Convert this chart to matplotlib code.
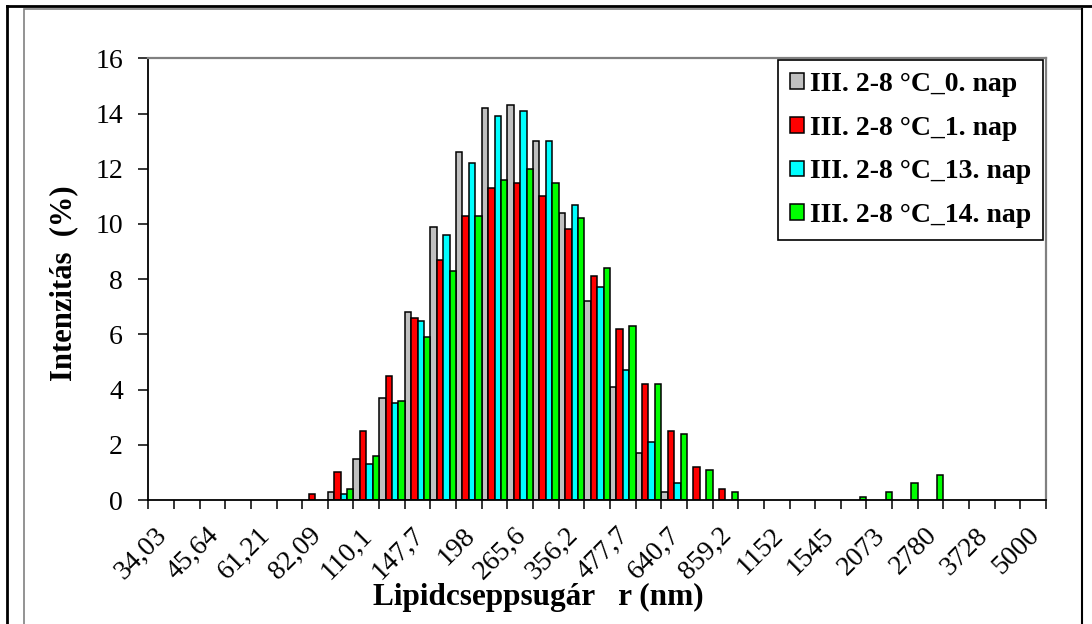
import matplotlib.pyplot as plt
import matplotlib.lines as mlines
import matplotlib.patches as mpatches
import numpy as np

# radius bins (nm); only every second one is labelled on the axis
radius_labels = ['34,03', '39,41', '45,64', '52,85', '61,21', '70,89', '82,09',
                 '95,07', '110,1', '127,5', '147,7', '171', '198', '229,3',
                 '265,6', '307,6', '356,2', '412,5', '477,7', '553,2', '640,7',
                 '742', '859,2', '995', '1152', '1334', '1545', '1789', '2073',
                 '2401', '2780', '3219', '3728', '4317', '5000']

series_names = ['III. 2-8 °C_0. nap', 'III. 2-8 °C_1. nap',
                'III. 2-8 °C_13. nap', 'III. 2-8 °C_14. nap']

day0 = [0, 0, 0, 0, 0, 0, 0, 0.3, 1.5, 3.7, 6.8, 9.9, 12.6, 14.2, 14.3, 13.0,
        10.4, 7.2, 4.1, 1.7, 0.3, 0, 0, 0, 0, 0, 0, 0, 0, 0, 0, 0, 0, 0, 0]
day1 = [0, 0, 0, 0, 0, 0, 0.2, 1.0, 2.5, 4.5, 6.6, 8.7, 10.3, 11.3, 11.5, 11.0,
        9.8, 8.1, 6.2, 4.2, 2.5, 1.2, 0.4, 0, 0, 0, 0, 0, 0, 0, 0, 0, 0, 0, 0]
day13 = [0, 0, 0, 0, 0, 0, 0, 0.2, 1.3, 3.5, 6.5, 9.6, 12.2, 13.9, 14.1, 13.0,
         10.7, 7.7, 4.7, 2.1, 0.6, 0, 0, 0, 0, 0, 0, 0, 0, 0, 0, 0, 0, 0, 0]
day14 = [0, 0, 0, 0, 0, 0, 0, 0.4, 1.6, 3.6, 5.9, 8.3, 10.3, 11.6, 12.0, 11.5,
         10.2, 8.4, 6.3, 4.2, 2.4, 1.1, 0.3, 0, 0, 0, 0, 0.1, 0.3, 0.6, 0.9,
         0, 0, 0, 0]

colors = ['#c0c0c0', '#ff0000', '#00ffff', '#00ff00']

plt.rcParams['font.family'] = ['Liberation Serif', 'DejaVu Serif']

fig = plt.figure(figsize=(10.92, 6.24), dpi=100)
ax = fig.add_axes([148.3 / 1092, 1 - 500 / 624, 897.7 / 1092, 441.7 / 624])

n = len(radius_labels)
x = np.arange(n)
w = 0.25
for k, (vals, col, name) in enumerate(zip([day0, day1, day13, day14], colors, series_names)):
    vals = np.array(vals)
    keep = vals > 0
    ax.bar(x[keep] + (k - 1.5) * w, vals[keep], width=w, color=col,
           edgecolor='black', linewidth=1.1, label=name)

ax.set_xlim(-0.5, n - 0.5)
ax.set_ylim(0, 16)
ax.set_yticks(np.arange(0, 17, 2))

# tick marks between categories, labels on every second category
# (label anchors nudged a little left so the rotated text ends at the centre)
ax.set_xticks(np.arange(n + 1) - 0.5)
ax.set_xticklabels([])
ax.set_xticks(x[::2] - 0.25, radius_labels[::2], minor=True)
ax.tick_params(axis='x', which='major', direction='out', length=6.7, width=1.1)
ax.tick_params(axis='x', which='minor', length=0, pad=16.5, labelsize=20)
for lab in ax.get_xticklabels(minor=True):
    lab.set_rotation(45)
    lab.set_ha('right')
    lab.set_va('top')
    lab.set_rotation_mode('anchor')
ax.tick_params(axis='y', direction='out', length=7.2, width=1.1, pad=11, labelsize=20)

for side in ['top', 'right']:
    ax.spines[side].set_color('#808080')
    ax.spines[side].set_linewidth(1.6)
for side in ['left', 'bottom']:
    ax.spines[side].set_linewidth(1.3)

fig.text(538 / 1092, 1 - 597 / 624, 'Lipidcseppsugár   r (nm)', fontsize=22.5,
         fontweight='bold', ha='center', va='center')
fig.text(64 / 1092, 1 - 283 / 624, 'Intenzitás  (%)', fontsize=22,
         fontweight='bold', ha='center', va='center', rotation=90)

leg = ax.legend(loc='upper right', bbox_to_anchor=(0.997, 0.997), borderaxespad=0,
                prop={'size': 20, 'weight': 'bold'}, fancybox=False,
                framealpha=1, edgecolor='black', handlelength=0.5,
                handleheight=0.5, handletextpad=0.2, labelspacing=0.67,
                borderpad=0.45)
leg.get_frame().set_linewidth(1.2)

# outer frame lines like the pasted document picture
fig.add_artist(mpatches.Rectangle((23.5 / 1092, -0.05), (1082 - 23.5) / 1092,
                                  1.05 - 9 / 624, transform=fig.transFigure,
                                  fill=False, edgecolor='#808080', linewidth=1.2))
fig.add_artist(mlines.Line2D([1082 / 1092, 1082 / 1092], [0, 1 - 9 / 624],
                             transform=fig.transFigure, color='black', linewidth=1.5))
fig.add_artist(mlines.Line2D([7 / 1092, 1.0], [1 - 6 / 624, 1 - 6 / 624],
                             transform=fig.transFigure, color='black', linewidth=2))
fig.add_artist(mlines.Line2D([7 / 1092, 7 / 1092], [0, 1 - 6 / 624],
                             transform=fig.transFigure, color='black', linewidth=2))

fig.savefig('out.png', dpi=100)
